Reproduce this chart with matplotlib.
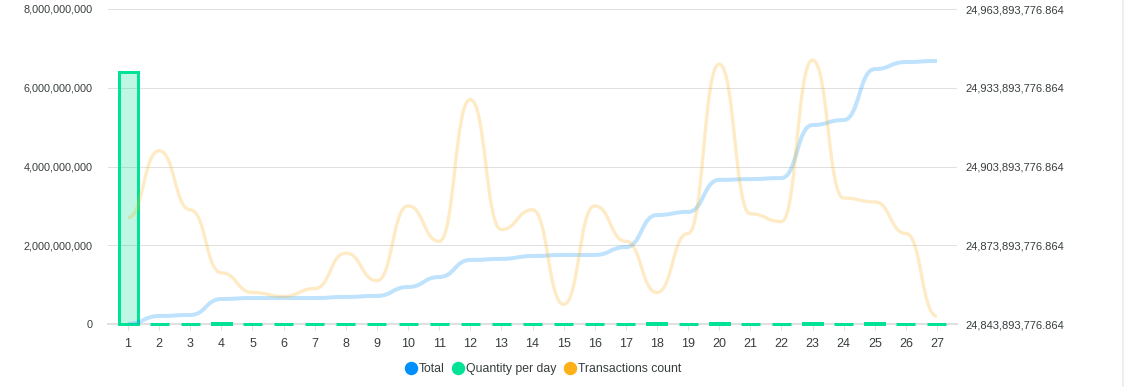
"""Daily total, quantity per day and transactions count (ApexCharts-style combo chart)."""

import matplotlib

matplotlib.use("Agg")

import matplotlib.pyplot as plt
from matplotlib.lines import Line2D
from matplotlib.patches import PathPatch
from matplotlib.path import Path
from matplotlib.ticker import FuncFormatter, MultipleLocator

plt.rcParams["font.family"] = ["Liberation Sans", "DejaVu Sans"]

DAYS = list(range(1, 28))

QUANTITY_PER_DAY = [
    6.40e9, 1.0e7, 0.8e7, 2.0e7, 0.8e7, 0.8e7, 0.8e7, 0.8e7, 0.8e7,
    1.0e7, 1.0e7, 1.0e7, 0.8e7, 0.8e7, 0.8e7, 0.8e7, 1.0e7, 3.5e7,
    1.0e7, 3.5e7, 0.8e7, 0.8e7, 3.5e7, 1.0e7, 3.5e7, 1.0e7, 0.8e7,
]

TOTAL_BASE = 24_843_893_776.864
TOTAL_OFFSET_M = [
    0.0, 3.05, 3.43, 9.52, 9.90, 9.90, 9.90, 10.3, 10.7,
    14.1, 17.9, 24.4, 24.8, 25.9, 26.3, 26.3, 29.3, 41.5,
    42.7, 54.9, 55.2, 55.6, 75.8, 77.7, 97.1, 99.8, 100.2,
]
TOTAL = [TOTAL_BASE + v * 1e6 for v in TOTAL_OFFSET_M]

TRANSACTIONS = [
    27, 44, 29, 13, 8, 7, 9, 18, 11,
    30, 21, 57, 24, 29, 5, 30, 21, 8,
    23, 66, 28, 26, 67, 32, 31, 23, 2,
]

BLUE = "#008FFB"
GREEN = "#00E396"
ORANGE = "#FEB019"
TEXT = "#373d3f"
GRID = "#e0e0e0"

W, H = 1125, 387
PX = 1 / 100 * 72  # points per pixel at dpi=100


def smooth_path(xs, ys):
    verts = [(xs[0], ys[0])]
    codes = [Path.MOVETO]
    for i in range(len(xs) - 1):
        dx = (xs[i + 1] - xs[i]) / 2
        verts += [(xs[i] + dx, ys[i]), (xs[i + 1] - dx, ys[i + 1]), (xs[i + 1], ys[i + 1])]
        codes += [Path.CURVE4] * 3
    return Path(verts, codes)


fig = plt.figure(figsize=(W / 100, H / 100), dpi=100)
ax = fig.add_axes([108 / W, (H - 324) / H, 849 / W, 315 / H])

# bars on left axis
ax.bar(DAYS, QUANTITY_PER_DAY, width=0.61, color=GREEN, alpha=0.25, zorder=2, linewidth=0)
ax.bar(DAYS, QUANTITY_PER_DAY, width=0.61, facecolor="none", edgecolor=GREEN,
       linewidth=3 * PX, zorder=3, clip_on=False)

ax.set_xlim(1 - 20 / 31.09, 27 + 20 / 31.09)
ax.set_ylim(0, 8e9)
ax.yaxis.set_major_locator(MultipleLocator(2e9))
ax.yaxis.set_major_formatter(FuncFormatter(lambda v, _: f"{v:,.0f}"))
ax.set_xticks(DAYS)
ax.set_xticklabels([str(d) for d in DAYS])
ax.grid(axis="y", color=GRID, linewidth=1.0 * PX, zorder=0)
ax.set_axisbelow(True)
for s in ("top", "right", "left"):
    ax.spines[s].set_visible(False)
ax.spines["bottom"].set_color(GRID)
ax.spines["bottom"].set_linewidth(2 * PX)
ax.tick_params(axis="y", length=0, pad=15 * PX, labelsize=7.8, labelcolor=TEXT)
ax.tick_params(axis="x", length=6 * PX, width=1 * PX, color=GRID, pad=8 * PX,
               labelsize=9, labelcolor=TEXT)

# total on right axis
ax2 = ax.twinx()
ax2.set_ylim(TOTAL_BASE, TOTAL_BASE + 120e6)
ax2.set_yticks([TOTAL_BASE + k * 30e6 for k in range(5)])
ax2.yaxis.set_major_formatter(FuncFormatter(lambda v, _: f"{v:,.3f}"))
for s in ax2.spines.values():
    s.set_visible(False)
ax2.tick_params(axis="y", length=0, pad=8 * PX, labelsize=8.0, labelcolor=TEXT)
ax2.add_patch(PathPatch(smooth_path(DAYS, TOTAL), facecolor="none", edgecolor=BLUE,
                        alpha=0.25, linewidth=4 * PX, capstyle="butt", zorder=4))

# transactions on hidden axis
ax3 = ax.twinx()
ax3.set_ylim(0, 80)
ax3.set_axis_off()
ax3.add_patch(PathPatch(smooth_path(DAYS, TRANSACTIONS), facecolor="none", edgecolor=ORANGE,
                        alpha=0.25, linewidth=3.3 * PX, capstyle="butt", zorder=4))

handles = [
    Line2D([], [], marker="o", linestyle="none", markersize=12 * PX, color=c)
    for c in (BLUE, GREEN, ORANGE)
]
fig.legend(handles, ["Total", "Quantity per day", "Transactions count"],
           loc="center", bbox_to_anchor=(543 / W, 1 - 369 / H), ncol=3, frameon=False,
           handletextpad=0.15, columnspacing=0.6, handlelength=1.0, fontsize=8.8,
           labelcolor=TEXT)

fig.add_artist(Line2D([1123 / W, 1123 / W], [0, 1], color="#eeeeee", linewidth=2 * PX))

fig.savefig("out.png", dpi=100, facecolor="white")
